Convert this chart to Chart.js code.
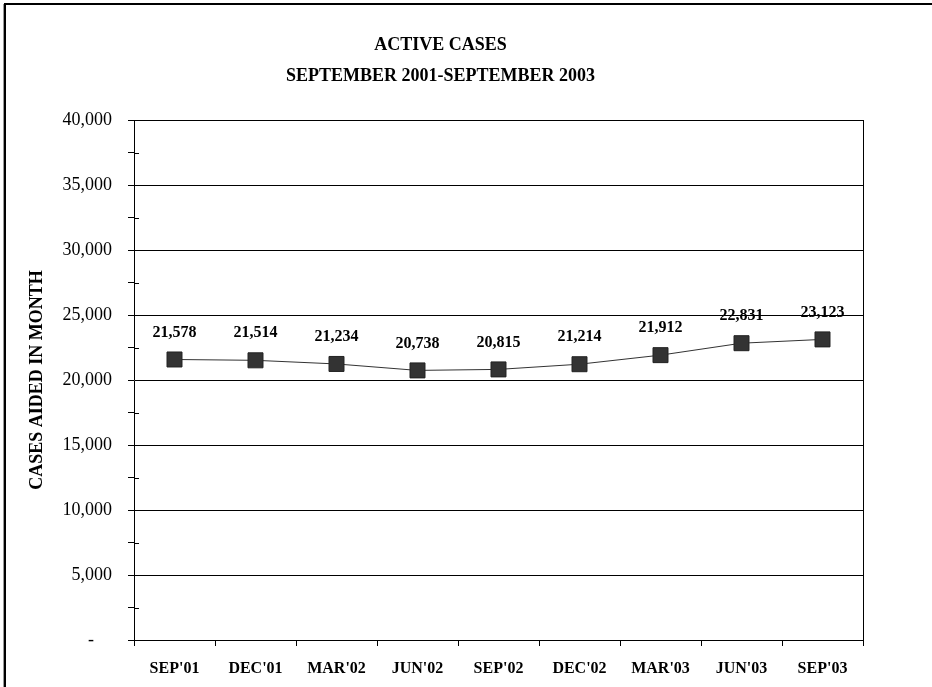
<!DOCTYPE html>
<html>
<head>
<meta charset="utf-8">
<title>Active Cases</title>
<script src="https://cdn.jsdelivr.net/npm/chart.js@4/dist/chart.umd.min.js"></script>
<style>
  html, body { margin: 0; padding: 0; background: #fff; }
  #wrap { width: 932px; height: 687px; position: relative; }
</style>
</head>
<body>
<div id="wrap"><canvas id="chart" width="932" height="687"></canvas></div>
<script>
// Quarterly snapshots of active cases
const categories = ["SEP'01", "DEC'01", "MAR'02", "JUN'02", "SEP'02", "DEC'02", "MAR'03", "JUN'03", "SEP'03"];
const activeCases = [21578, 21514, 21234, 20738, 20815, 21214, 21912, 22831, 23123];
const titleLines = ['ACTIVE CASES', 'SEPTEMBER 2001-SEPTEMBER 2003'];
const yAxisTitle = 'CASES AIDED IN MONTH';
const yMin = 0, yMax = 40000, yMajorStep = 5000, yMinorStep = 2500;

const SERIF = '"Liberation Serif", "Times New Roman", Times, serif';
const fmt = v => v.toLocaleString('en-US');

// Page frame (top and left rules) drawn behind everything
const framePlugin = {
  id: 'frame',
  beforeDraw(chart) {
    const c = chart.ctx;
    c.save();
    c.fillStyle = '#fff';
    c.fillRect(0, 0, chart.width, chart.height);
    c.fillStyle = '#9a9a9a';
    c.fillRect(3, 4, 1, chart.height - 4);
    c.fillStyle = '#000';
    c.fillRect(4, 3, chart.width - 4, 2);
    c.fillRect(4, 3, 2, chart.height - 3);
    c.restore();
  }
};

// Box around the plot area and the inner half of the minor y ticks
const plotBoxPlugin = {
  id: 'plotBox',
  afterDraw(chart) {
    const {ctx: c, chartArea: a} = chart;
    const y = chart.scales.y;
    c.save();
    c.strokeStyle = '#000';
    c.lineWidth = 1;
    c.beginPath();
    c.moveTo(Math.round(a.right) + 0.5, a.top);
    c.lineTo(Math.round(a.right) + 0.5, a.bottom);
    c.stroke();
    c.beginPath();
    for (let v = yMin + yMinorStep; v < yMax; v += yMajorStep) {
      const py = Math.round(y.getPixelForValue(v)) + 0.5;
      c.moveTo(a.left, py);
      c.lineTo(a.left + 5, py);
    }
    c.stroke();
    c.restore();
  }
};

// Value labels above each marker
const valueLabelPlugin = {
  id: 'valueLabels',
  afterDatasetsDraw(chart) {
    const c = chart.ctx;
    const meta = chart.getDatasetMeta(0);
    const data = chart.data.datasets[0].data;
    c.save();
    c.font = 'bold 16px ' + SERIF;
    c.fillStyle = '#000';
    c.textAlign = 'center';
    c.textBaseline = 'middle';
    meta.data.forEach((pt, i) => {
      c.fillText(fmt(data[i]), pt.x, pt.y - 27);
    });
    c.restore();
  }
};

new Chart(document.getElementById('chart'), {
  type: 'line',
  data: {
    labels: categories,
    datasets: [{
      data: activeCases,
      borderColor: '#333',
      borderWidth: 1,
      backgroundColor: '#333',
      pointStyle: 'rect',
      pointRadius: 10.6,
      pointHoverRadius: 10.6,
      pointBackgroundColor: '#333',
      pointBorderColor: '#222',
      pointBorderWidth: 1,
      tension: 0
    }]
  },
  options: {
    responsive: false,
    animation: false,
    events: [],
    layout: { padding: { left: 18, right: 69, top: 0, bottom: 0 } },
    plugins: {
      legend: { display: false },
      tooltip: { enabled: false },
      title: {
        display: true,
        text: titleLines,
        color: '#000',
        font: { family: SERIF, size: 18, weight: 'bold', lineHeight: 31 / 18 },
        padding: { top: 29.5, bottom: 28.5 }
      }
    },
    scales: {
      x: {
        type: 'category',
        offset: true,
        grid: { offset: true, drawOnChartArea: false, color: '#000', tickColor: '#000', tickLength: 6, lineWidth: 1 },
        border: { color: '#000', width: 1 },
        ticks: {
          color: '#000',
          font: { family: SERIF, size: 16, weight: 'bold' },
          padding: 13,
          maxRotation: 0,
          autoSkip: false
        },
        afterFit(s) { s.height = 47; }
      },
      y: {
        min: yMin,
        max: yMax,
        grid: {
          color: ctx => (ctx.tick && ctx.tick.value % yMajorStep === 0) ? '#000' : 'rgba(0,0,0,0)',
          tickColor: '#000',
          tickLength: 6,
          lineWidth: 1
        },
        border: { color: '#000', width: 1 },
        ticks: {
          stepSize: yMinorStep,
          autoSkip: false,
          color: '#000',
          font: { family: SERIF, size: 18 },
          padding: 16,
          callback: v => v % yMajorStep !== 0 ? '' : (v === 0 ? '-    ' : fmt(v))
        },
        title: {
          display: true,
          text: yAxisTitle,
          color: '#000',
          font: { family: SERIF, size: 18, weight: 'bold' },
          padding: { top: 9, bottom: 0 }
        },
        afterFit(s) { s.width = 116; }
      }
    }
  },
  plugins: [framePlugin, plotBoxPlugin, valueLabelPlugin]
});
</script>
</body>
</html>
